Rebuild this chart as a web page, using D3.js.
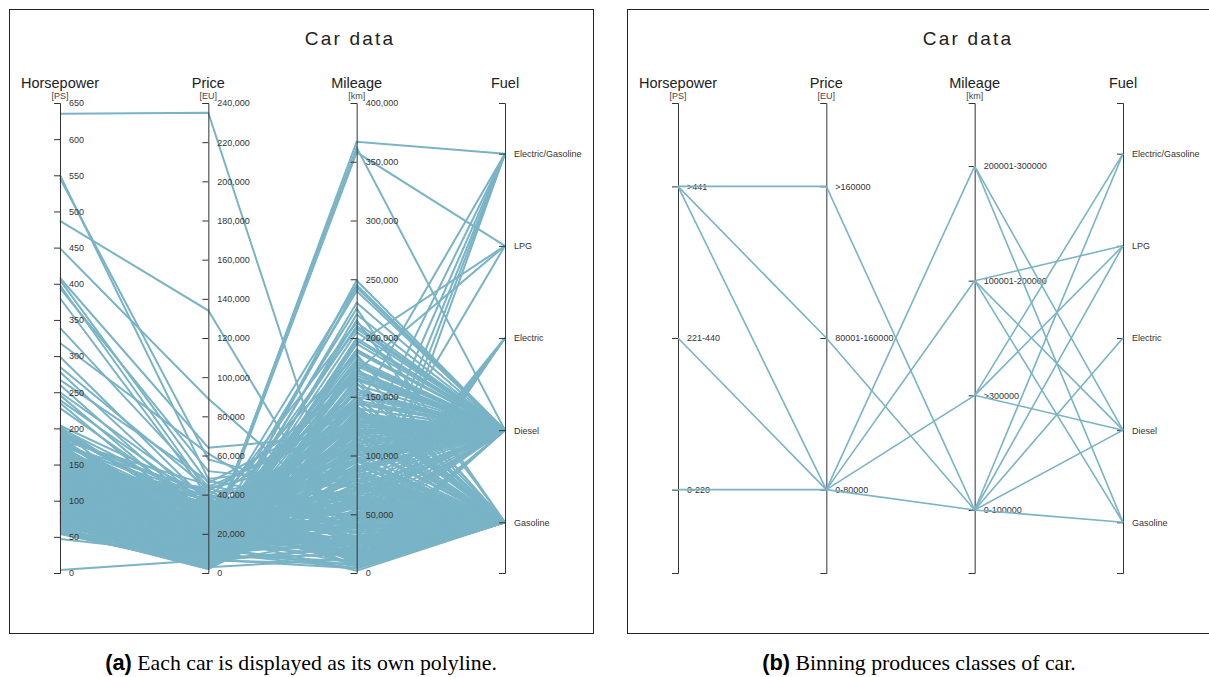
<!DOCTYPE html>
<html>
<head>
<meta charset="utf-8">
<script src="https://cdn.jsdelivr.net/npm/d3@7"></script>
<style>
  body { margin: 0; background: #fff; }
  svg { display: block; }
</style>
</head>
<body>
<svg id="chart" width="1209" height="677"></svg>
<script>
// ---- axes ----
const dimensions = ["Horsepower", "Price", "Mileage", "Fuel"];
const units = ["[PS]", "[EU]", "[km]", ""];
const hpTicks = [0, 50, 100, 150, 200, 250, 300, 350, 400, 450, 500, 550, 600, 650];
const priceTicks = [0, 20000, 40000, 60000, 80000, 100000, 120000, 140000, 160000, 180000, 200000, 220000, 240000];
const mileageTicks = [0, 50000, 100000, 150000, 200000, 250000, 300000, 350000, 400000];
const fuelTypes = ["Electric/Gasoline", "LPG", "Electric", "Diesel", "Gasoline"];

// ---- one entry per car (fuel is an index into fuelTypes) ----
const horsepower = [
  635, 550, 546, 487, 449, 408, 405, 398, 394, 380,
  339, 318, 299, 285, 278, 267, 260, 250, 246, 239,
  235, 228, 202, 4, 47, 120, 135, 110, 136, 122,
  184, 141, 116, 177, 110, 150, 95, 82, 150, 109,
  204, 136,
  75, 90, 105, 140, 116, 60, 150, 170, 184, 122,
  68, 96, 110, 130, 163, 190, 82, 101, 143, 177,
  55, 88, 125, 136, 150, 195, 71, 115, 160, 99,
  86, 131, 174, 63, 109, 147, 120, 156, 93, 200,
  78, 113, 140, 166, 84, 105, 128, 188, 58, 95,
  133, 152, 72, 118, 180, 102, 65, 90, 145, 125,
  170, 80, 112, 138, 158, 97, 69, 123, 192, 87,
  107, 150, 75, 135, 163, 118, 92, 60, 145, 177,
  103, 85, 128, 155, 74, 99, 139, 185, 110, 66,
  120, 148, 89, 172, 131, 77, 105, 160, 94, 116,
  142, 82, 197, 70, 126, 150, 100, 64, 135, 168,
  91, 113, 176, 79, 144, 122, 56, 96, 158, 108,
  140, 115, 130, 150, 95, 170, 85, 125, 102, 188,
  62, 70, 81, 93, 104, 112, 121, 133, 146, 158,
  67, 76, 85, 98, 108, 117, 127, 137, 149, 162,
  58, 72, 83, 91, 100, 111, 119, 129, 141, 153,
  165, 179, 193, 186, 174, 161, 148, 135, 124, 114,
  106, 97, 88, 79, 73, 61, 54, 66, 74, 84,
  95, 103, 114, 126, 138, 151, 167, 181, 198, 183,
  171, 157, 144, 132, 119, 109, 99, 90, 81, 69,
  57, 63, 77, 86, 94, 101, 117, 129, 142, 155,
  168, 180, 191, 199, 187, 175, 162, 150, 139, 125
];
const price = [
  235000, 48000, 58000, 134000, 89000, 64000, 46000, 41000, 52000, 39000,
  44000, 61000, 36000, 43000, 33000, 47000, 29000, 38000, 27000, 35000,
  24000, 31000, 26000, 6600, 9000, 15000, 14000, 16500, 38000, 33000,
  45000, 36000, 28000, 42000, 10000, 22000, 7000, 30000, 35000, 33000,
  40000, 26000,
  8500, 12000, 15500, 22000, 18000, 4500, 28000, 32000, 26000, 9800,
  6200, 11000, 13500, 19000, 24000, 38000, 7800, 17000, 14000, 21000,
  3200, 10500, 23000, 16000, 19800, 29000, 5500, 12200, 34000, 8900,
  13000, 25000, 18500, 2800, 20000, 11500, 27000, 15000, 6800, 36000,
  9500, 14500, 30000, 22500, 4200, 10000, 17500, 40000, 5000, 15000,
  12800, 24500, 7000, 21000, 27500, 3800, 8000, 16500, 20500, 6500,
  13000, 11800, 9000, 26000, 31000, 14000, 3500, 18800, 33000, 5800,
  22000, 16800, 10800, 7500, 37000, 15800, 12500, 7200, 28500, 19500,
  25000, 9200, 11000, 35000, 4000, 17800, 21500, 23000, 8200, 6000,
  29000, 13800, 15200, 26500, 10200, 12000, 19200, 17000, 2500, 31500,
  23500, 14800, 30500, 9800, 13200, 37500, 7400, 11200, 20800, 15500,
  18200, 5200, 39000, 8600, 27000, 16200, 6600, 21800, 12400, 24000,
  18000, 9500, 11500, 14500, 7800, 20000, 5500, 13000, 19000, 16000,
  3000, 4800, 6400, 9900, 12600, 16400, 19600, 22800, 26200, 29400,
  2200, 3600, 5900, 8100, 10900, 13900, 16900, 20400, 24200, 28200,
  2000, 4400, 6900, 7600, 11400, 14200, 17200, 21200, 25600, 30200,
  33800, 36200, 31800, 24800, 16200, 9600, 5600, 3400, 2700, 4600,
  6200, 8800, 11600, 14200, 7900, 5300, 3900, 9100, 12800, 15600,
  18600, 21400, 23600, 26800, 29800, 33200, 34800, 30800, 27800, 21800,
  18400, 15400, 12200, 9400, 6800, 4300, 3100, 2300, 4100, 6000,
  7400, 10400, 13600, 17400, 20800, 24600, 28000, 32400, 18900, 14600,
  10600, 8400, 7000, 12000, 19200, 25800, 36800, 42000, 39600, 44000
];
const mileage = [
  6000, 95000, 62000, 14000, 38000, 118000, 142000, 88000, 73000, 165000,
  128000, 27000, 152000, 104000, 186000, 57000, 213000, 96000, 134000, 78000,
  245000, 112000, 140000, 22000, 120000, 367000, 358000, 362000, 5000, 25000,
  45000, 70000, 100000, 140000, 195000, 172000, 65000, 15000, 22000, 30000,
  39000, 45000,
  95000, 130000, 72000, 48000, 110000, 150000, 35000, 22000, 88000, 176000,
  60000, 84000, 140000, 66000, 120000, 12000, 118000, 28000, 190000, 145000,
  165000, 46000, 17000, 98000, 132000, 76000, 102000, 156000, 9000, 205000,
  38000, 56000, 168000, 128000, 24000, 182000, 14000, 112000, 138000, 42000,
  70000, 91000, 31000, 104000, 172000, 126000, 80000, 18000, 54000, 62000,
  147000, 58000, 86000, 40000, 126000, 220000, 34000, 20000, 94000, 190000,
  160000, 52000, 115000, 44000, 66000, 106000, 142000, 74000, 100000, 158000,
  12000, 136000, 76000, 198000, 27000, 120000, 92000, 48000, 16000, 150000,
  8000, 110000, 164000, 48000, 124000, 58000, 86000, 178000, 150000, 82000,
  6000, 124000, 44000, 64000, 230000, 30000, 96000, 188000, 175000, 20000,
  102000, 68000, 112000, 40000, 128000, 10000, 98000, 24000, 60000, 140000,
  36000, 200000, 30000, 146000, 90000, 50000, 108000, 14000, 210000, 72000,
  240000, 249000, 243000, 225000, 215000, 208000, 195000, 185000, 178000, 172000,
  12000, 32000, 8000, 26000, 4000, 36000, 18000, 52000, 7000, 38000,
  64000, 84000, 44000, 72000, 62000, 88000, 108000, 78000, 130000, 94000,
  96000, 118000, 4000, 16000, 48000, 20000, 64000, 30000, 24000, 12000,
  54000, 86000, 34000, 66000, 100000, 154000, 170000, 162000, 136000, 110000,
  92000, 76000, 56000, 28000, 42000, 72000, 88000, 10000, 6000, 14000,
  8000, 26000, 44000, 60000, 70000, 82000, 58000, 46000, 116000, 130000,
  114000, 96000, 122000, 134000, 144000, 166000, 180000, 150000, 60000, 22000,
  16000, 4000, 50000, 40000, 66000, 90000, 102000, 10000, 2000, 32000,
  80000, 104000, 124000, 96000, 56000, 20000, 40000, 14000, 26000, 8000
];
const fuel = [
  4, 4, 4, 4, 4, 3, 4, 3, 4, 3,
  3, 4, 3, 3, 4, 4, 3, 4, 3, 4,
  3, 3, 4, 4, 4, 0, 1, 3, 0, 0,
  0, 0, 0, 0, 1, 1, 1, 2, 2, 2,
  2, 2,
  4, 3, 4, 4, 3, 4, 3, 4, 3, 3,
  4, 4, 3, 4, 3, 4, 4, 4, 3, 3,
  4, 4, 4, 3, 3, 4, 4, 3, 3, 3,
  4, 4, 3, 4, 4, 3, 3, 3, 4, 4,
  4, 4, 4, 3, 3, 3, 4, 3, 4, 3,
  3, 4, 4, 4, 3, 3, 4, 4, 3, 3,
  3, 4, 4, 4, 3, 3, 4, 4, 3, 4,
  4, 3, 4, 3, 4, 3, 4, 4, 3, 3,
  4, 4, 3, 3, 4, 4, 3, 3, 4, 4,
  4, 3, 4, 4, 3, 4, 3, 3, 4, 4,
  3, 4, 3, 4, 3, 4, 4, 4, 4, 3,
  4, 3, 4, 4, 3, 4, 4, 4, 3, 3,
  3, 3, 3, 4, 4, 3, 3, 4, 3, 3,
  4, 4, 4, 4, 4, 4, 4, 4, 4, 4,
  4, 4, 3, 3, 4, 3, 3, 3, 3, 3,
  4, 4, 4, 4, 4, 4, 4, 4, 4, 4,
  3, 3, 4, 4, 3, 3, 3, 4, 4, 4,
  4, 4, 4, 4, 4, 4, 4, 4, 4, 4,
  4, 4, 3, 3, 3, 3, 4, 4, 3, 3,
  3, 3, 3, 3, 3, 3, 3, 4, 4, 4,
  4, 4, 4, 4, 3, 3, 3, 4, 4, 4,
  4, 3, 3, 3, 4, 4, 3, 4, 4, 4
];

// ---- binned classes and the class combinations that occur ----
const hpClasses = [">441", "221-440", "0-220"];
const priceClasses = [">160000", "80001-160000", "0-80000"];
const mileageClasses = ["200001-300000", "100001-200000", ">300000", "0-100000"];
const hpPriceLinks = [
  [">441", ">160000"], [">441", "80001-160000"], [">441", "0-80000"],
  ["221-440", "0-80000"], ["0-220", "0-80000"]
];
const priceMileageLinks = [
  [">160000", "0-100000"], ["80001-160000", "0-100000"],
  ["0-80000", "200001-300000"], ["0-80000", "100001-200000"],
  ["0-80000", ">300000"], ["0-80000", "0-100000"]
];
const mileageFuelLinks = [
  ["200001-300000", "Diesel"], ["200001-300000", "Gasoline"],
  ["100001-200000", "LPG"], ["100001-200000", "Diesel"], ["100001-200000", "Gasoline"],
  [">300000", "Electric/Gasoline"], [">300000", "LPG"], [">300000", "Diesel"],
  ["0-100000", "Electric/Gasoline"], ["0-100000", "LPG"], ["0-100000", "Electric"],
  ["0-100000", "Diesel"], ["0-100000", "Gasoline"]
];

const captions = [
  { tag: "(a)", text: " Each car is displayed as its own polyline." },
  { tag: "(b)", text: " Binning produces classes of car." }
];

// ---- layout ----
const svg = d3.select("#chart");
const lineColor = "#79b3c6";
const fontSans = "'Liberation Sans', Arial, Helvetica, sans-serif";
const yTop = 103, yBottom = 573;
const panelW = 584, panelH = 624, panelGap = 618;
const pointPad = 0.55;

function panel(index) {
  const ox = 9 + index * panelGap;
  const g = svg.append("g").attr("transform", `translate(${ox},0)`);
  g.append("rect")
    .attr("x", 0.5).attr("y", 9.5)
    .attr("width", panelW).attr("height", panelH)
    .attr("fill", "#fff").attr("stroke", "#222").attr("stroke-width", 1);
  g.append("text")
    .attr("x", 341).attr("y", 45)
    .attr("text-anchor", "middle")
    .attr("font-family", fontSans).attr("font-size", 19)
    .attr("letter-spacing", "2.2px")
    .attr("fill", "#222")
    .text("Car data");
  const c = captions[index];
  const cap = g.append("text")
    .attr("x", 292).attr("y", 670)
    .attr("text-anchor", "middle")
    .attr("font-size", 21.8).attr("fill", "#000");
  cap.append("tspan").attr("font-family", fontSans).attr("font-weight", "bold").text(c.tag);
  cap.append("tspan").attr("font-family", "'Liberation Serif', 'Times New Roman', serif").text(c.text);
  return g;
}

const xPos = d3.scalePoint().domain(dimensions).range([51, 496]);

function drawAxis(g, dim, scale, unit) {
  const x = xPos(dim);
  const ag = g.append("g").attr("transform", `translate(${x},0)`);
  const axis = d3.axisLeft(scale).tickSize(6).tickSizeOuter(6);
  if (scale.tickList) axis.tickValues(scale.tickList).tickFormat(d3.format(","));
  ag.call(axis);
  ag.select(".domain").attr("stroke", "#333");
  ag.selectAll(".tick line").attr("stroke", "#333");
  ag.selectAll(".tick text")
    .attr("x", 9).attr("text-anchor", "start")
    .attr("font-family", fontSans).attr("font-size", 9)
    .attr("fill", "#333");
  g.append("text")
    .attr("x", x).attr("y", 88)
    .attr("text-anchor", "middle")
    .attr("font-family", fontSans).attr("font-size", 14.5)
    .attr("fill", "#222")
    .text(dim);
  if (unit) {
    g.append("text")
      .attr("x", x).attr("y", 99)
      .attr("text-anchor", "middle")
      .attr("font-family", fontSans).attr("font-size", 9)
      .attr("fill", "#444")
      .text(unit);
  }
}

// ---- panel (a): every car as a polyline ----
{
  const g = panel(0);
  const yHp = d3.scaleLinear().domain([0, 650]).range([yBottom, yTop]);
  yHp.tickList = hpTicks;
  const yPrice = d3.scaleLinear().domain([0, 240000]).range([yBottom, yTop]);
  yPrice.tickList = priceTicks;
  const yMileage = d3.scaleLinear().domain([0, 400000]).range([yBottom, yTop]);
  yMileage.tickList = mileageTicks;
  const yFuel = d3.scalePoint().domain(fuelTypes).range([yTop, yBottom]).padding(pointPad);

  const cars = horsepower.map((hp, i) => ({
    Horsepower: hp, Price: price[i], Mileage: mileage[i], Fuel: fuelTypes[fuel[i]]
  }));
  const yOf = { Horsepower: yHp, Price: yPrice, Mileage: yMileage, Fuel: yFuel };
  const line = d3.line();

  g.append("g")
    .selectAll("path")
    .data(cars)
    .join("path")
    .attr("d", d => line(dimensions.map(k => [xPos(k), yOf[k](d[k])])))
    .attr("fill", "none")
    .attr("stroke", lineColor)
    .attr("stroke-width", 2);

  dimensions.forEach((k, i) => drawAxis(g, k, yOf[k], units[i]));
}

// ---- panel (b): binned classes ----
{
  const g = panel(1);
  const yHp = d3.scalePoint().domain(hpClasses).range([yTop, yBottom]).padding(pointPad);
  const yPrice = d3.scalePoint().domain(priceClasses).range([yTop, yBottom]).padding(pointPad);
  const yMileage = d3.scalePoint().domain(mileageClasses).range([yTop, yBottom]).padding(pointPad);
  const yFuel = d3.scalePoint().domain(fuelTypes).range([yTop, yBottom]).padding(pointPad);
  const yOf = { Horsepower: yHp, Price: yPrice, Mileage: yMileage, Fuel: yFuel };

  const segments = [
    ...hpPriceLinks.map(([a, b]) => ["Horsepower", a, "Price", b]),
    ...priceMileageLinks.map(([a, b]) => ["Price", a, "Mileage", b]),
    ...mileageFuelLinks.map(([a, b]) => ["Mileage", a, "Fuel", b])
  ];

  dimensions.forEach((k, i) => drawAxis(g, k, yOf[k], units[i]));

  g.append("g")
    .selectAll("line")
    .data(segments)
    .join("line")
    .attr("x1", d => xPos(d[0])).attr("y1", d => yOf[d[0]](d[1]))
    .attr("x2", d => xPos(d[2])).attr("y2", d => yOf[d[2]](d[3]))
    .attr("stroke", lineColor)
    .attr("stroke-width", 1.6);
}
</script>
</body>
</html>
